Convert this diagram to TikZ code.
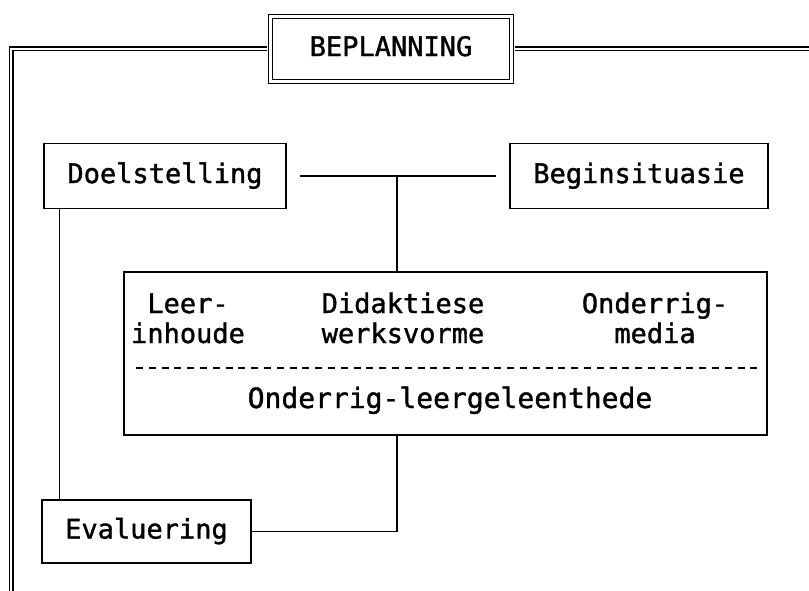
\documentclass[tikz,border=0pt]{standalone}
\usepackage{fontspec}
\newfontfamily\monof[FakeBold=1.3]{DejaVu Sans Mono}
\begin{document}
\begin{tikzpicture}[x=1pt,y=-1pt,
  every node/.style={font=\monof\fontsize{27}{30}\selectfont, inner sep=0pt},
  box/.style={draw, line width=1.5pt, text height=20.5pt, text depth=6.4pt},
  titlebox/.style={draw, line width=1.2pt, double=white, double distance=2.6pt,
    text height=20.5pt, text depth=6.4pt, minimum width=241pt, minimum height=65pt},
  dbl/.style={draw, line width=1.2pt, double=white, double distance=2.6pt},
  ln/.style={line width=1.5pt},
  dashln/.style={line width=1.6pt, dash pattern=on 7pt off 5.8pt}]
\useasboundingbox (0,0) rectangle (809,591);
\clip (0,0) rectangle (809,591);
\fill[white] (0,0) rectangle (809,591);

% title and frame
\node[titlebox] (title) at (391,49) {BEPLANNING};
\coordinate (fl) at (11,620);
\coordinate (fr) at (830,49);
\draw[dbl, shorten <=2.5pt] (title.west) -| (fl);
\draw[dbl, shorten <=2.5pt] (title.east) -- (fr);

% boxes
\node[box, minimum width=242pt, minimum height=65pt] (doel) at (165,176) {Doelstelling};
\node[box, minimum width=258pt, minimum height=65pt] (begin) at (639,176) {Beginsituasie};
\node[box, minimum width=643pt, minimum height=163pt] (big) at (445.5,353.5) {};
\node[box, minimum width=209pt, minimum height=63pt] (eval) at (146.5,531.5) {Evaluering};

% contents of big box
\node[anchor=base] (leer) at (188,313) {\begin{tabular}[t]{@{}c@{}}Leer-\\inhoude\end{tabular}};
\node[anchor=base] (did) at (403,313) {\begin{tabular}[t]{@{}c@{}}Didaktiese\\werksvorme\end{tabular}};
\node[anchor=base] (med) at (655,313) {\begin{tabular}[t]{@{}c@{}}Onderrig-\\media\end{tabular}};
\coordinate (dl) at (136,368);
\coordinate (dr) at (760,368);
\draw[dashln] (dl) -- (dr);
\node[anchor=base, font=\monof\fontsize{28}{30}\selectfont] (oll) at (450,408) {Onderrig-leergeleenthede};

% connectors
\coordinate (j) at (397,176);
\draw[ln, shorten <=13pt, shorten >=13pt] (doel.east) -- (begin.west);
\draw[ln] (j) -- (j |- big.north);
\draw[ln] ([xshift=16pt]doel.south west) -- ([xshift=16pt]doel.south west |- eval.north);
\draw[ln] (eval.east) -| (j |- big.south);
\end{tikzpicture}
\end{document}
